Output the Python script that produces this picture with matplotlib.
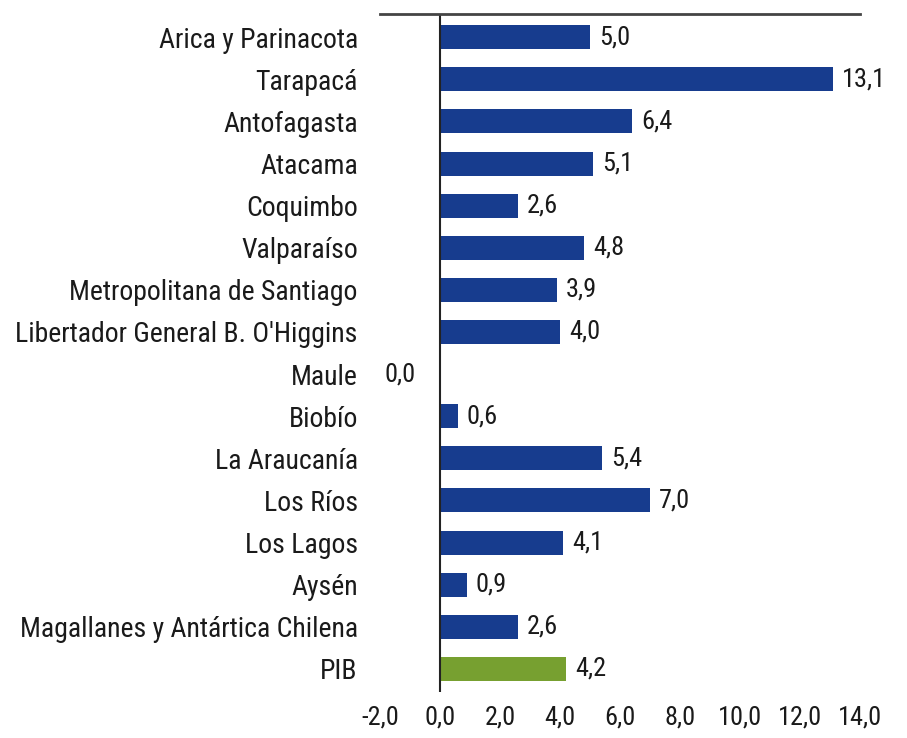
import matplotlib
matplotlib.use("Agg")
import matplotlib.pyplot as plt

regions = ["Arica y Parinacota", "Tarapacá", "Antofagasta", "Atacama", "Coquimbo",
           "Valparaíso", "Metropolitana de Santiago", "Libertador General B. O'Higgins",
           "Maule", "Biobío", "La Araucanía", "Los Ríos", "Los Lagos", "Aysén",
           "Magallanes y Antártica Chilena", "PIB"]
values = [5.0, 13.1, 6.4, 5.1, 2.6, 4.8, 3.9, 4.0, 0.0, 0.6, 5.4, 7.0, 4.1, 0.9, 2.6, 4.2]
xticks = [-2, 0, 2, 4, 6, 8, 10, 12, 14]

plt.rcParams['font.family'] = ['Roboto Condensed', 'DejaVu Sans']
plt.rcParams['font.weight'] = 'normal'

def fmt(v):
    return f"{v:.1f}".replace(".", ",")

fig = plt.figure(figsize=(9.07, 7.38), dpi=100)
ax = fig.add_axes([0.419, 0.0623, 0.529, 0.9187])

blue = "#173C8E"
green = "#77A030"
txt = "#1a1a1a"
colors = [green if r == "PIB" else blue for r in regions]
ypos = list(range(len(regions)))
ax.barh(ypos, values, height=0.57, color=colors)
ax.set_ylim(len(regions) - 0.45, -0.55)
ax.set_xlim(-2, 14)
ax.axvline(0, color="#222222", lw=1.5)

for y, v in zip(ypos, values):
    if v <= 0:
        ax.text(-0.8, y, fmt(v), ha="right", va="center", fontsize=19, color=txt)
    else:
        ax.text(v + 0.3, y, fmt(v), ha="left", va="center", fontsize=19, color=txt)

ax.set_yticks(ypos)
ax.set_yticklabels(regions, fontsize=20, color=txt)
ax.set_xticks(xticks)
ax.set_xticklabels([fmt(t) for t in xticks], fontsize=19, color=txt)
ax.tick_params(length=0)
ax.tick_params(axis="y", pad=16)
ax.tick_params(axis="x", pad=10)
for s in ["left", "right", "bottom"]:
    ax.spines[s].set_visible(False)
ax.spines["top"].set_color("#444444")
ax.spines["top"].set_linewidth(2)

fig.savefig("out.png", dpi=100)
